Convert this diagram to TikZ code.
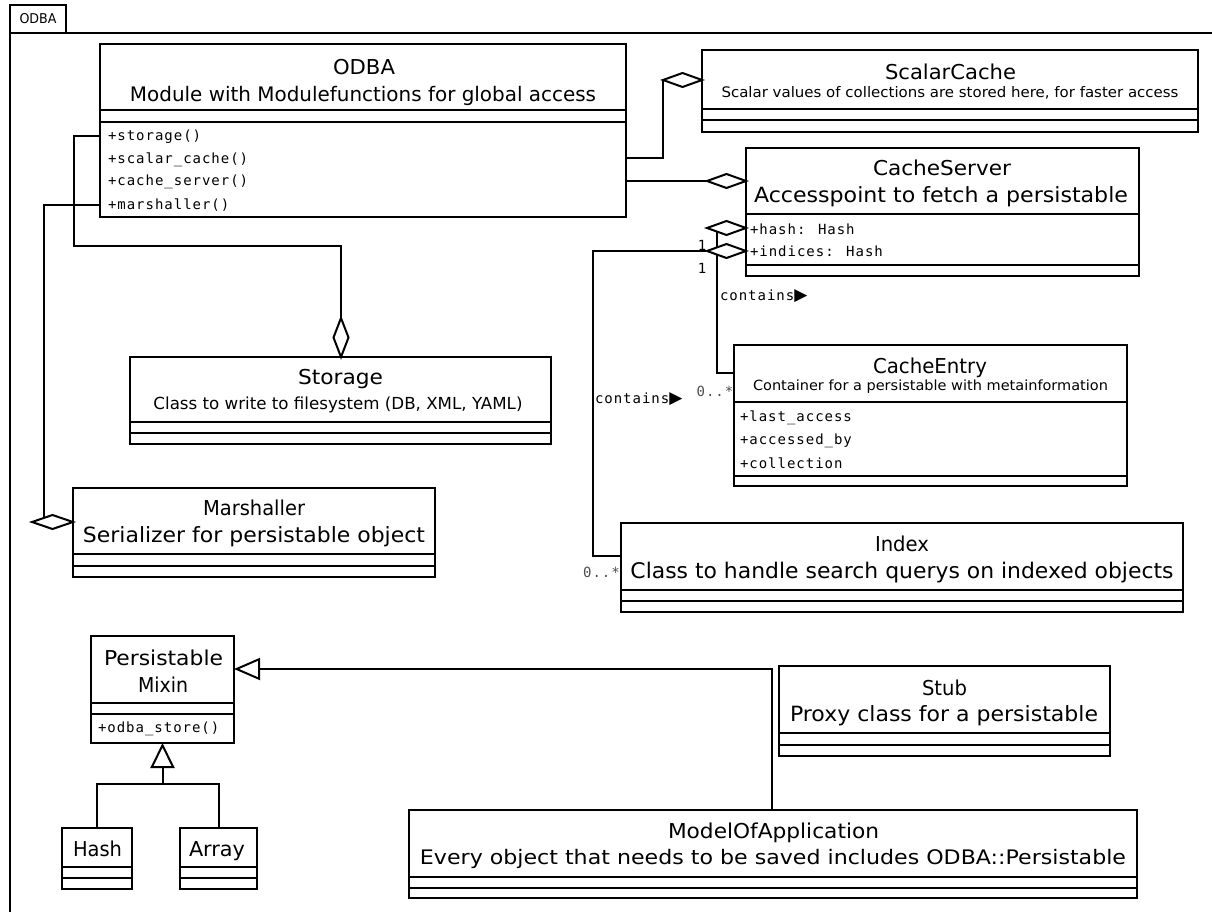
\documentclass[tikz,border=0pt]{standalone}
\usepackage{graphicx}
\usepackage{fontspec}
\setmainfont{DejaVu Sans}
\newfontfamily\monofont{DejaVu Sans Mono}[LetterSpace=7]
\newfontfamily\glyphfont{DejaVu Sans}
\usetikzlibrary{shapes.geometric,arrows.meta,fit,calc,backgrounds}

% text set at a given size and stretched to a given width
\newcommand\fitt[3]{\fontsize{#2}{#2}\selectfont\resizebox{#1pt}{\height}{#3}}
% class rectangle from its corners
\newcommand\umlbox[5]{\node[uml, fit={(#2,#3) (#4,#5)}] (#1) {};}
% compartment divider across a class
\newcommand\umlsep[2]{\draw[wire] (#1.west |- 0,#2) -- (#1.east |- 0,#2);}

\tikzset{
  x=1pt, y=-1pt,
  uml/.style={draw, line width=2pt, inner sep=0pt, outer sep=0pt, fill=white},
  wire/.style={line width=2pt},
  agg/.style={diamond, draw, line width=2pt, fill=white, inner sep=0pt,
    outer sep=0pt, minimum width=39pt, minimum height=14pt},
  aggv/.style={agg, minimum width=15pt, minimum height=39pt},
  lbl/.style={inner sep=0pt, outer sep=0pt},
  member/.style={lbl, anchor=west, font=\monofont\fontsize{14}{14}\selectfont},
  mult/.style={lbl, font=\monofont\fontsize{14}{14}\selectfont, text=black!70},
  gen/.style={wire, -{Triangle[open, length=26pt, width=22pt, line width=2pt, fill=white]}},
}

\begin{document}
\begin{tikzpicture}
\useasboundingbox (0,0) rectangle (1212,912);

% package frame
\node[uml, fit={(10,5) (66,33)}] (tab) {};
\node[lbl] (tabname) at (tab.center) {\fitt{37}{13.5}{ODBA}};
\draw[wire] (tab.north west) -- (10,912);
\draw[wire] (tab.south west) -- (1212,33);

% ---------------- classes ----------------
\umlbox{odba}{100}{44}{626}{217}
\umlsep{odba}{110}\umlsep{odba}{122.5}
\node[lbl] (odbaT) at (364,67) {\fitt{62}{20.5}{ODBA}};
\node[lbl] (odbaS) at (363,96) {\fitt{466}{20}{Module with Modulefunctions for global access}};
\node[member] (op1) at (108,137) {+storage()};
\node[member] (op2) at (108,160) {+scalar\_cache()};
\node[member] (op3) at (108,182) {+cache\_server()};
\node[member] (op4) at (108,205) {+marshaller()};

\umlbox{sc}{702}{50}{1198}{132}
\umlsep{sc}{109}\umlsep{sc}{120}
\node[lbl] (scT) at (950.5,72) {\fitt{131}{20.5}{ScalarCache}};
\node[lbl] (scS) at (950,93) {\fitt{457}{14.5}{Scalar values of collections are stored here, for faster access}};

\umlbox{cs}{746}{148}{1139}{275.5}
\umlsep{cs}{214}\umlsep{cs}{264.5}
\node[lbl] (csT) at (942,168) {\fitt{138}{20.5}{CacheServer}};
\node[lbl] (csS) at (941,197) {\fitt{374}{21}{Accesspoint to fetch a persistable}};
\node[member] (csA1) at (750,229) {+hash: Hash};
\node[member] (csA2) at (750,251) {+indices: Hash};

\umlbox{ce}{734}{345}{1127}{486}
\umlsep{ce}{402}\umlsep{ce}{476}
\node[lbl] (ceT) at (930,368) {\fitt{114}{20.5}{CacheEntry}};
\node[lbl] (ceS) at (930.5,387) {\fitt{355}{14}{Container for a persistable with metainformation}};
\node[member] (ceA1) at (740,418) {+last\_access};
\node[member] (ceA2) at (740,441) {+accessed\_by};
\node[member] (ceA3) at (740,463) {+collection};

\umlbox{idx}{621}{523}{1183}{612}
\umlsep{idx}{590}\umlsep{idx}{601}
\node[lbl] (idxT) at (902,544) {\fitt{54}{20.5}{Index}};
\node[lbl] (idxS) at (902,573) {\fitt{543}{21.5}{Class to handle search querys on indexed objects}};

\umlbox{st}{130}{357}{551}{444}
\umlsep{st}{422}\umlsep{st}{433}
\node[lbl] (stT) at (340.5,379) {\fitt{85}{20.5}{Storage}};
\node[lbl] (stS) at (338,405) {\fitt{369}{16.6}{Class to write to filesystem (DB, XML, YAML)}};

\umlbox{ms}{73}{488}{435}{577}
\umlsep{ms}{554}\umlsep{ms}{566}
\node[lbl] (msT) at (254,508) {\fitt{102}{20.5}{Marshaller}};
\node[lbl] (msS) at (254,537) {\fitt{342}{21}{Serializer for persistable object}};

\umlbox{pm}{91}{636}{234}{743}
\umlsep{pm}{703}\umlsep{pm}{714}
\node[lbl] (pmT1) at (163.5,658) {\fitt{119}{20.5}{Persistable}};
\node[lbl] (pmT2) at (163,685) {\fitt{50}{20.5}{Mixin}};
\node[member] (pmO) at (98,729) {+odba\_store()};

\umlbox{hs}{62}{828}{132}{889}
\umlsep{hs}{867}\umlsep{hs}{878}
\node[lbl] (hsT) at (97.5,849) {\fitt{49}{20.5}{Hash}};

\umlbox{ar}{180}{828}{257}{889}
\umlsep{ar}{867}\umlsep{ar}{878}
\node[lbl] (arT) at (217,851) {\fitt{56}{20.5}{Array}};

\umlbox{sb}{779}{666}{1110}{756}
\umlsep{sb}{733}\umlsep{sb}{745}
\node[lbl] (sbT) at (944.5,688) {\fitt{45}{20.5}{Stub}};
\node[lbl] (sbS) at (944,716) {\fitt{308}{21}{Proxy class for a persistable}};

\umlbox{moa}{409}{810}{1137}{898}
\umlsep{moa}{877}\umlsep{moa}{888}
\node[lbl] (moaT) at (773.5,833) {\fitt{211}{20.5}{ModelOfApplication}};
\node[lbl] (moaS) at (773,859) {\fitt{706}{20}{Every object that needs to be saved includes ODBA::Persistable}};

% ---------------- aggregation diamonds ----------------
\node[agg] (aggSc) at (682.5,80) {};
\node[agg] (aggCs) at (726.5,181) {};
\node[agg] (aggHash) at (726.5,228) {};
\node[agg] (aggInd) at (726.5,251) {};
\node[aggv] (aggSt) at (341,337.5) {};
\node[agg, minimum width=41pt] (aggMs) at (52.5,522) {};

% ---------------- connectors ----------------
\begin{scope}[on background layer]
\draw[wire] (odba.east |- 0,158) -| (aggSc.west);
\draw[wire] (odba.east |- 0,181) -- (aggCs.west);
\draw[wire] (odba.west |- 0,136) -| (74,246) -| (aggSt.north);
\draw[wire] (odba.west |- 0,205) -| ($(aggMs.west)!0.6!(aggMs.north)$);
\draw[wire] (ce.west |- 0,373) -| ($(aggHash.south)!0.5!(aggHash.west)$);
\draw[wire] (idx.west |- 0,556) -| (593,251) -- (aggInd.west);
\end{scope}

% generalisations
\draw[gen] (moa.north -| 772,0) |- (pm.east |- 0,669);
\coordinate (inhJoin) at (162.5,784);
\draw[wire] (hs.north) |- (ar.north |- inhJoin) -- (ar.north);
\draw[wire, -{Triangle[open, length=25pt, width=24pt, line width=2pt, fill=white]}] (inhJoin) -- (pm.south);

% association labels and multiplicities
\node[lbl, font=\monofont\fontsize{14}{14}\selectfont] (m1a) at (702,245) {1};
\node[lbl, font=\monofont\fontsize{14}{14}\selectfont] (m1b) at (702,268) {1};
\node[member] (contA) at (720,296) {contains{\glyphfont\fontsize{17}{17}\selectfont ▶}};
\node[member] (contB) at (595,399) {contains{\glyphfont\fontsize{17}{17}\selectfont ▶}};
\node[mult] (mCe) at (715,391) {0..*};
\node[mult] (mIdx) at (601.5,572) {0..*};

\end{tikzpicture}
\end{document}
